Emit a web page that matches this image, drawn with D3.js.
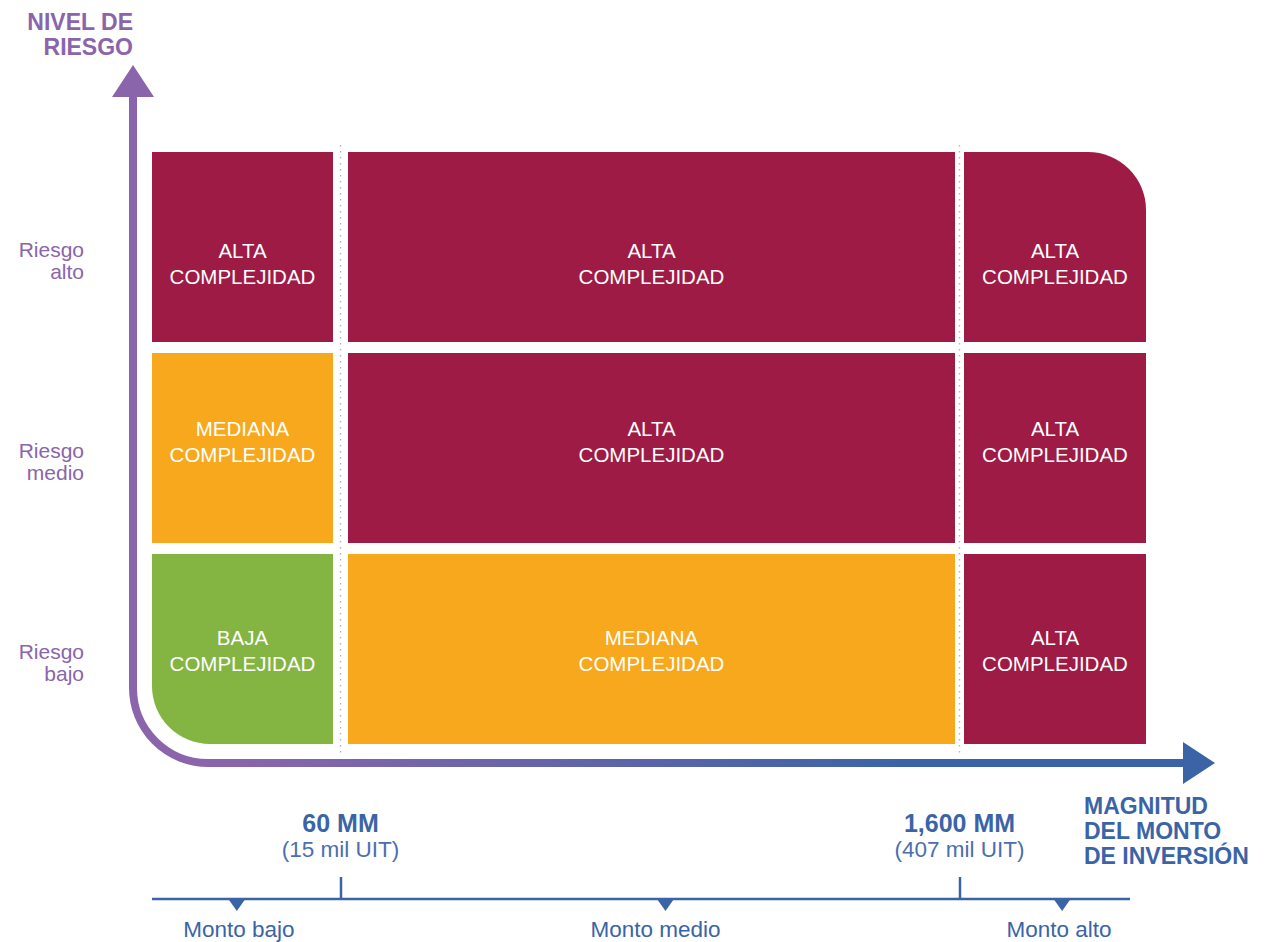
<!DOCTYPE html>
<html>

<head>
  <meta charset="utf-8">
  <script src="https://cdnjs.cloudflare.com/ajax/libs/d3/7.8.5/d3.min.js"></script>
  <style>
    html,
    body {
      margin: 0;
      padding: 0;
      background: #fff;
    }
    svg text {
      font-family: "Liberation Sans", Arial, Helvetica, sans-serif;
    }
  </style>
</head>

<body>
  <div id="chart"></div>

  <script>
    // data
    var riskLevels = ["Riesgo alto", "Riesgo medio", "Riesgo bajo"];
    var amountLevels = ["Monto bajo", "Monto medio", "Monto alto"];
    // complexity per risk row (top to bottom), per amount column
    var complexity = [
      ["ALTA", "ALTA", "ALTA"],
      ["MEDIANA", "ALTA", "ALTA"],
      ["BAJA", "MEDIANA", "ALTA"]
    ];
    var thresholdLabels = ["60 MM", "1,600 MM"];
    var thresholdUit = ["(15 mil UIT)", "(407 mil UIT)"];
    var yTitle = ["NIVEL DE", "RIESGO"];
    var xTitle = ["MAGNITUD", "DEL MONTO", "DE INVERSIÓN"];

    var colors = {
      ALTA: "#9d1b44",
      MEDIANA: "#f7a81c",
      BAJA: "#84b542"
    };
    var purple = "#8a65ab";
    var blue = "#3b64a6";

    var width = 1268, height = 942;

    var svg = d3.select("#chart")
      .append("svg")
      .attr("width", width)
      .attr("height", height);

    // x: piecewise scale, one unit per amount segment
    var x = d3.scaleLinear()
      .domain([0, 1, 2, 3])
      .range([152, 340.5, 959.5, 1146]);
    var halfGap = [7.5, 4.5];
    // where the amount markers sit inside each segment
    var markerPos = [0.45, 1.525, 2.55];
    var labelShift = [2, -10, -3];

    var y = d3.scaleBand()
      .domain(riskLevels)
      .range([152, 744])
      .paddingInner(0.055)
      .paddingOuter(0);

    var textNudge = [17, -7, 1];
    var radius = 58;

    function cellPath(x0, y0, x1, y1, tr, bl) {
      var p = d3.path();
      p.moveTo(x0, y0);
      if (tr) {
        p.lineTo(x1 - radius, y0);
        p.arcTo(x1, y0, x1, y0 + radius, radius);
      } else {
        p.lineTo(x1, y0);
      }
      p.lineTo(x1, y1);
      if (bl) {
        p.lineTo(x0 + radius, y1);
        p.arcTo(x0, y1, x0, y1 - radius, radius);
      } else {
        p.lineTo(x0, y1);
      }
      p.closePath();
      return p.toString();
    }

    // dotted separators
    svg.selectAll(".sep")
      .data([1, 2])
      .enter()
      .append("line")
      .attr("x1", d => x(d))
      .attr("x2", d => x(d))
      .attr("y1", 145)
      .attr("y2", 753)
      .attr("stroke", "#b5b5b5")
      .attr("stroke-width", 1.4)
      .attr("stroke-dasharray", "1.5 4.5");

    // cells
    var cells = [];
    complexity.forEach((row, r) => {
      row.forEach((c, i) => {
        cells.push({ r: r, i: i, level: c });
      });
    });

    var cell = svg.selectAll(".cell")
      .data(cells)
      .enter()
      .append("g");

    cell.append("path")
      .attr("d", d => {
        var x0 = d.i === 0 ? x(0) : x(d.i) + halfGap[d.i - 1];
        var x1 = d.i === 2 ? x(3) : x(d.i + 1) - halfGap[d.i];
        var y0 = y(riskLevels[d.r]);
        var y1 = y0 + y.bandwidth();
        return cellPath(x0, y0, x1, y1, d.r === 0 && d.i === 2, d.r === 2 && d.i === 0);
      })
      .attr("fill", d => colors[d.level]);

    cell.each(function (d) {
      var x0 = d.i === 0 ? x(0) : x(d.i) + halfGap[d.i - 1];
      var x1 = d.i === 2 ? x(3) : x(d.i + 1) - halfGap[d.i];
      var cy = y(riskLevels[d.r]) + y.bandwidth() / 2 + textNudge[d.r];
      var t = d3.select(this).append("text")
        .attr("text-anchor", "middle")
        .attr("font-size", "20.5px")
        .attr("fill", "#fff");
      t.append("tspan").attr("x", (x0 + x1) / 2).attr("y", cy - 5.5).text(d.level);
      t.append("tspan").attr("x", (x0 + x1) / 2).attr("y", cy + 20.5).text("COMPLEJIDAD");
    });

    // row labels
    riskLevels.forEach((lab, r) => {
      var parts = lab.split(" ");
      var by = y(lab) + y.bandwidth() / 2 + 10;
      var t = svg.append("text")
        .attr("text-anchor", "end")
        .attr("font-size", "21px")
        .attr("fill", purple);
      t.append("tspan").attr("x", 84).attr("y", by).text(parts[0]);
      t.append("tspan").attr("x", 84).attr("y", by + 22).text(parts[1]);
    });

    // axis with rounded corner, gradient purple -> blue
    var grad = svg.append("defs")
      .append("linearGradient")
      .attr("id", "axisGrad")
      .attr("gradientUnits", "userSpaceOnUse")
      .attr("x1", 230).attr("x2", 900)
      .attr("y1", 0).attr("y2", 0);
    grad.append("stop").attr("offset", 0).attr("stop-color", purple);
    grad.append("stop").attr("offset", 1).attr("stop-color", blue);

    var ax = 133, ay = 763, r0 = 75;
    var axisPath = d3.path();
    axisPath.moveTo(ax, 95);
    axisPath.lineTo(ax, ay - r0);
    axisPath.arcTo(ax, ay, ax + r0, ay, r0);
    axisPath.lineTo(1188, ay);

    svg.append("path")
      .attr("d", axisPath.toString())
      .attr("fill", "none")
      .attr("stroke", "url(#axisGrad)")
      .attr("stroke-width", 8);

    svg.append("polygon")
      .attr("points", [[112, 97], [ax, 65], [154, 97]].join(" "))
      .attr("fill", purple);

    svg.append("polygon")
      .attr("points", [[1183, 742], [1215, ay], [1183, 784]].join(" "))
      .attr("fill", blue);

    // axis titles
    var yt = svg.append("text")
      .attr("text-anchor", "end")
      .attr("font-size", "23px")
      .attr("font-weight", "bold")
      .attr("fill", purple);
    yTitle.forEach((s, i) => {
      yt.append("tspan").attr("x", ax).attr("y", 30 + i * 25).text(s);
    });

    var xt = svg.append("text")
      .attr("text-anchor", "start")
      .attr("font-size", "23px")
      .attr("font-weight", "bold")
      .attr("fill", blue);
    xTitle.forEach((s, i) => {
      xt.append("tspan").attr("x", 1084).attr("y", 814 + i * 25).text(s);
    });

    // bottom amount axis
    var baseY = 899;
    var bottom = svg.append("g")
      .attr("transform", "translate(0," + baseY + ")")
      .call(d3.axisBottom(x)
        .tickValues([1, 2])
        .tickSizeInner(-22)
        .tickSizeOuter(0)
        .tickFormat(""));
    bottom.select(".domain")
      .attr("d", "M" + x(0) + ",0H1130")
      .attr("stroke", blue)
      .attr("stroke-width", 2.5);
    bottom.selectAll(".tick line")
      .attr("stroke", blue)
      .attr("stroke-width", 2.5);

    // threshold labels
    thresholdLabels.forEach((s, i) => {
      svg.append("text")
        .attr("x", x(i + 1))
        .attr("y", 832)
        .attr("text-anchor", "middle")
        .attr("font-size", "25px")
        .attr("font-weight", "bold")
        .attr("fill", blue)
        .text(s);
      svg.append("text")
        .attr("x", x(i + 1))
        .attr("y", 857)
        .attr("text-anchor", "middle")
        .attr("font-size", "22.5px")
        .attr("fill", "#4a6fae")
        .text(thresholdUit[i]);
    });

    // amount markers and labels
    amountLevels.forEach((s, i) => {
      var mx = x(markerPos[i]);
      svg.append("polygon")
        .attr("points", [[mx - 8.5, baseY], [mx + 8.5, baseY], [mx, baseY + 12]].join(" "))
        .attr("fill", blue);
      svg.append("text")
        .attr("x", mx + labelShift[i])
        .attr("y", 937)
        .attr("text-anchor", "middle")
        .attr("font-size", "22.5px")
        .attr("fill", blue)
        .text(s);
    });
  </script>
</body>

</html>
